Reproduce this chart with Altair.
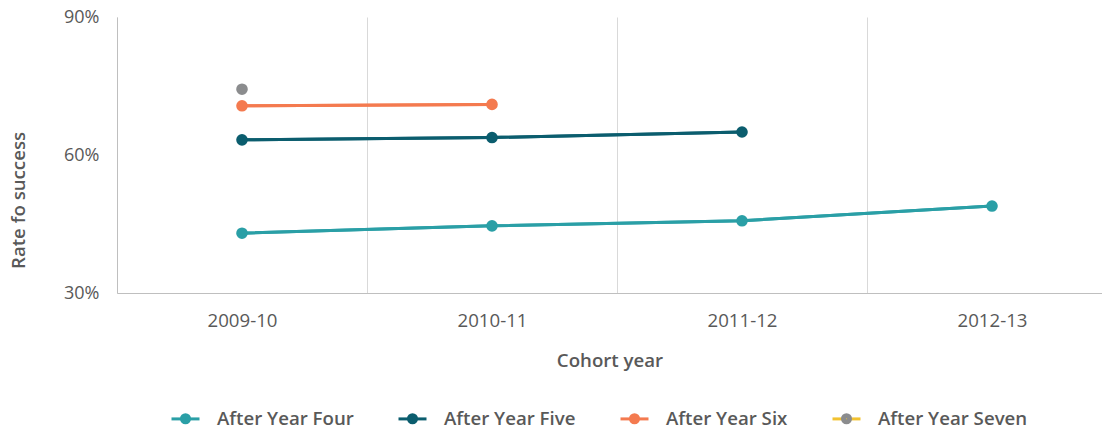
import json
import altair as alt
import pandas as pd

cohorts = ["2009-10", "2010-11", "2011-12", "2012-13"]
series = ["After Year Four", "After Year Five", "After Year Six", "After Year Seven"]
after_four = [0.430, 0.446, 0.457, 0.489]
after_five = [0.633, 0.638, 0.650]
after_six = [0.707, 0.710]
after_seven = [0.743]
line_colors = ["#2A9FA6", "#0B5D6E", "#F47A4F", "#F2C230"]
marker_colors = ["#2A9FA6", "#0B5D6E", "#F47A4F", "#8B8C8E"]

rows = []
for k, (s, vals) in enumerate(zip(series, [after_four, after_five, after_six, after_seven])):
    for i, v in enumerate(vals):
        rows.append({"series": s, "sidx": k, "idx": i, "cohort": cohorts[i], "rate": v})
df = pd.DataFrame(rows)

FONT = "Open Sans"
TEXT = "#595959"
FS = 18.67
W, H, BAND = 985, 276, 250
xmax = -0.5 + W / BAND
label_expr = "datum.value % 1 === 0 ? " + json.dumps(cohorts) + "[datum.value] : ''"

x = alt.X(
    "idx:Q",
    scale=alt.Scale(domain=[-0.5, xmax], nice=False, zero=False),
    axis=alt.Axis(
        values=[-0.5, 0, 0.5, 1, 1.5, 2, 2.5, 3],
        labelExpr=label_expr,
        ticks=False,
        grid=True,
        gridColor="#D9D9D9",
        gridOpacity={"condition": {"test": "datum.value % 1 === 0", "value": 0}, "value": 1},
        domainColor="#BFBFBF",
        labelFont=FONT,
        labelFontSize=FS,
        labelColor=TEXT,
        labelPadding=18,
        title="Cohort year",
        titleFont=FONT,
        titleFontSize=FS,
        titleFontWeight=600,
        titleColor=TEXT,
        titlePadding=22,
    ),
)
y = alt.Y(
    "rate:Q",
    scale=alt.Scale(domain=[0.3, 0.9], nice=False, zero=False),
    axis=alt.Axis(
        values=[0.3, 0.6, 0.9],
        format=".0%",
        grid=False,
        ticks=False,
        domainColor="#BFBFBF",
        labelFont=FONT,
        labelFontSize=18,
        labelColor=TEXT,
        labelPadding=18,
        title="Rate fo success",
        titleFont=FONT,
        titleFontSize=FS,
        titleFontWeight=600,
        titleColor=TEXT,
        titleX=-89,
        titleY=183,
    ),
)

# Two stroke legends from two line layers with identical settings, stacked on
# the same spot: one shows the line colour, the other a dot in the marker colour.
LX, LY = 53, 386
COLPAD = 38
common = dict(
    orient="none", legendX=LX, legendY=LY, direction="horizontal", title=None,
    labelFont=FONT, labelFontSize=FS, labelFontWeight=600, labelColor=TEXT,
    labelOffset=16, columnPadding=COLPAD, padding=0,
    symbolSize=784, symbolStrokeWidth=3,
)
# dot drawn as concentric stroked rings (unit coords, scaled by sqrt(784)/2 = 14);
# zero-length end segments give the dot symbol the same bounds as the stroke symbol
ring_radii = [1.0 / 14, 2.5 / 14, 4.0 / 14]
DOT = "M-1,0L-1,0M1,0L1,0" + "".join(
    f"M{-r:.3f},0A{r:.3f},{r:.3f} 0 1,0 {r:.3f},0A{r:.3f},{r:.3f} 0 1,0 {-r:.3f},0Z"
    for r in ring_radii
)

lines = alt.Chart(df).mark_line(strokeWidth=3).encode(
    x=x,
    y=y,
    stroke=alt.Stroke(
        "series:N",
        scale=alt.Scale(domain=series, range=line_colors),
        legend=alt.Legend(symbolType="stroke", **common),
    ),
)
lines_marker_key = alt.Chart(df).mark_line(strokeWidth=3).encode(
    x=x,
    y=y,
    stroke=alt.Stroke(
        "sidx:N",
        scale=alt.Scale(domain=list(range(len(series))), range=marker_colors),
        legend=alt.Legend(
            symbolType=DOT,
            labelExpr=json.dumps(series) + "[datum.value]",
            labelOpacity=0,
            **common,
        ),
    ),
)
points = alt.Chart(df).mark_circle(size=135, opacity=1).encode(
    x=x,
    y=y,
    fill=alt.Fill(
        "series:N",
        scale=alt.Scale(domain=series, range=marker_colors),
        legend=None,
    ),
)

chart = alt.layer(lines, lines_marker_key, points).resolve_scale(
    stroke="independent"
).properties(
    width=W,
    height=H,
    autosize=alt.AutoSizeParams(type="none"),
    padding={"left": 109, "top": 9, "right": 0, "bottom": 138},
).configure(background="white").configure_view(stroke=None)

chart.save("out.html", embed_options={"renderer": "svg", "actions": False})
